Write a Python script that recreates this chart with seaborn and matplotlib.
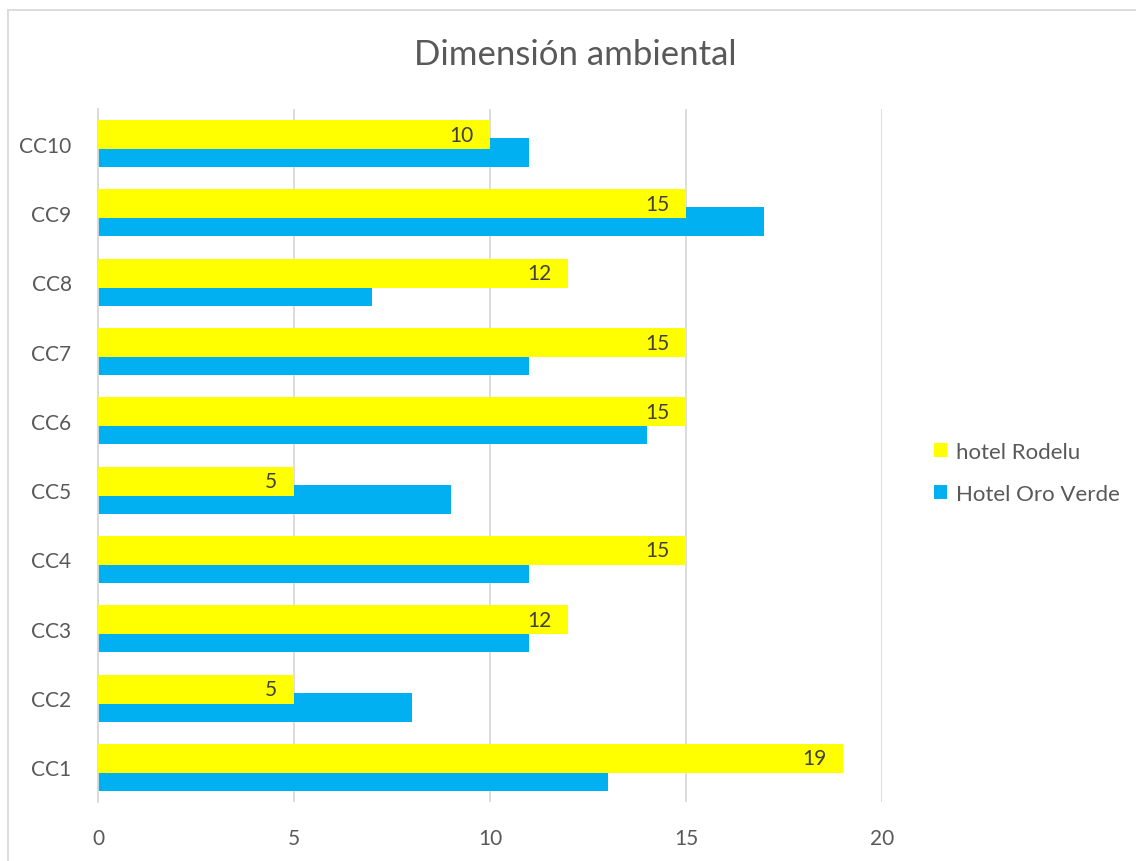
import matplotlib
matplotlib.use("Agg")
import matplotlib.pyplot as plt
import seaborn as sns
import pandas as pd
from matplotlib.patches import Patch, Rectangle

categories = ["CC1", "CC2", "CC3", "CC4", "CC5", "CC6", "CC7", "CC8", "CC9", "CC10"]
rodelu = [19, 5, 12, 15, 5, 15, 15, 12, 15, 10]
oro_verde = [13, 8, 11, 11, 9, 14, 11, 7, 17, 11]
series_names = ["hotel Rodelu", "Hotel Oro Verde"]
colors = ["#FFFF00", "#00B0F0"]
x_ticks = [0, 5, 10, 15, 20]
title = "Dimensión ambiental"

df = pd.DataFrame({
    "cat": categories * 2,
    "val": rodelu + oro_verde,
    "series": [series_names[0]] * len(categories) + [series_names[1]] * len(categories),
})
order = categories[::-1]

sns.set_style("white")
plt.rcParams["font.family"] = ["Lato", "DejaVu Sans"]
text_color = "#595959"

fig = plt.figure(figsize=(11.36, 8.62), dpi=100)
ax = fig.add_axes([98 / 1136, 1 - 803 / 862, (882 - 98) / 1136, (803 - 110) / 862])

sns.barplot(data=df, y="cat", x="val", hue="series", order=order,
            hue_order=series_names, palette=colors, orient="h",
            width=0.52, dodge=True, legend=False, ax=ax, saturation=1)

bar_h = 0.418
for cont, z in zip(ax.containers, [3, 2]):
    for p in cont:
        c = p.get_y() + p.get_height() / 2
        p.set_height(bar_h)
        p.set_y(c - bar_h / 2)
        p.set_zorder(z)
        p.set_linewidth(0)

# data labels on Rodelu bars (inside end)
for p in ax.containers[0]:
    v = p.get_width()
    ax.annotate(f"{v:g}", xy=(v, p.get_y() + p.get_height() / 2),
                xytext=(-12, 0), textcoords="offset points",
                ha="right", va="center", fontsize=15, color="#404040", zorder=5)

ax.set_xlim(0, 20)
ax.set_ylim(9.5, -0.5)
ax.set_xticks(x_ticks)
ax.set_xticklabels([str(t) for t in x_ticks])
ax.xaxis.grid(True, color="#D9D9D9", linewidth=1.3, zorder=0)
ax.set_axisbelow(True)
for s in ["top", "right", "bottom"]:
    ax.spines[s].set_visible(False)
ax.spines["left"].set_color("#D9D9D9")
ax.spines["left"].set_linewidth(1.3)
ax.tick_params(axis="both", length=0, labelsize=15, labelcolor=text_color)
ax.tick_params(axis="x", pad=19)
ax.tick_params(axis="y", pad=19)
ax.set_xlabel("")
ax.set_ylabel("")

fig.text(575 / 1136, 1 - 55 / 862, title, ha="center", va="center",
         fontsize=25, color=text_color)

handles = [Patch(facecolor=c, edgecolor="none", label=n) for c, n in zip(colors, series_names)]
fig.legend(handles=handles, loc="center left", bbox_to_anchor=(934 / 1136, 1 - 474 / 862),
           frameon=False, fontsize=16, labelcolor=text_color, handlelength=0.6,
           handleheight=0.6, handletextpad=0.4, labelspacing=1.0, borderpad=0,
           borderaxespad=0)

fig.patches.append(Rectangle((8 / 1136, -0.01), 1.1, 1 - 11 / 862 + 0.01,
                             transform=fig.transFigure, fill=False,
                             edgecolor="#D9D9D9", linewidth=1.3))

fig.savefig("out.png", dpi=100)
